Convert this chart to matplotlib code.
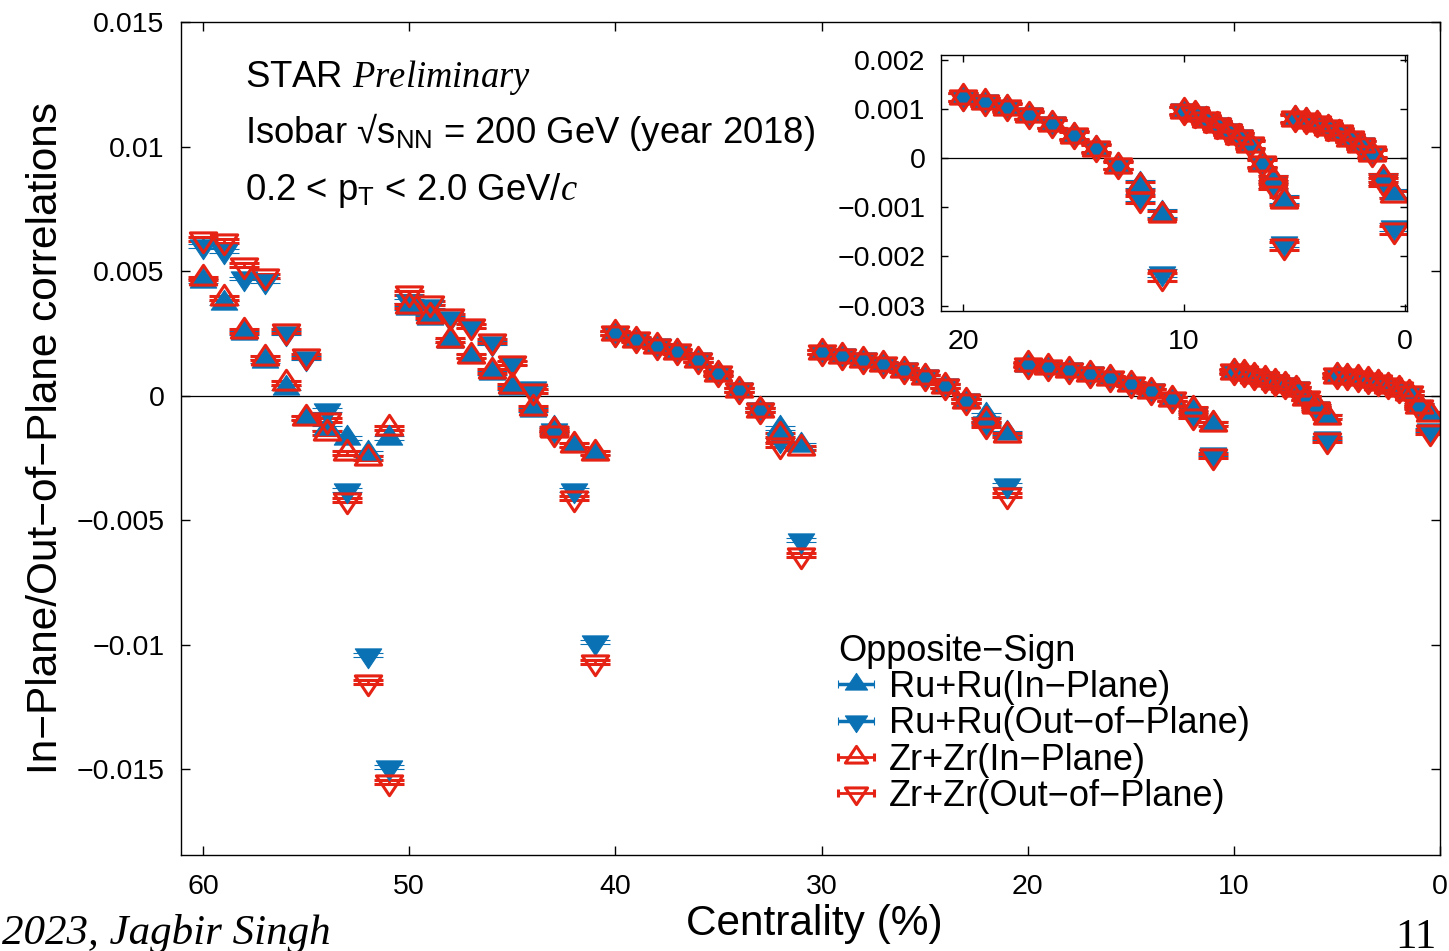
import numpy as np
import matplotlib
matplotlib.use('Agg')
import matplotlib.pyplot as plt
from matplotlib.path import Path
from matplotlib.ticker import FixedLocator, FuncFormatter

plt.rcParams['font.family'] = ['Liberation Sans', 'DejaVu Sans']
plt.rcParams['mathtext.fontset'] = 'custom'
plt.rcParams['mathtext.rm'] = 'Liberation Sans'
plt.rcParams['mathtext.it'] = 'Liberation Serif:italic'
plt.rcParams['mathtext.bf'] = 'Liberation Sans:bold'

BLUE = '#0a72b4'
RED = '#e52213'
YERR = 0.00008

# centrality bins (%), 7 groups of 10 points
cent = [60, 59, 58, 57, 56, 55, 54, 53, 52, 51,
        50, 49, 48, 47, 46, 45, 44, 43, 42, 41,
        40, 39, 38, 37, 36, 35, 34, 33, 32, 31,
        30, 29, 28, 27, 26, 25, 24, 23, 22, 21,
        20, 19, 18, 17, 16, 15, 14, 13, 12, 11,
        10, 9.5, 9, 8.5, 8, 7.5, 7, 6.5, 6, 5.5,
        5, 4.5, 4, 3.5, 3, 2.5, 2, 1.5, 1, 0.5]

ru_in = [0.0046, 0.0037, 0.0025, 0.0014, 0.0003, -0.0009, -0.0013, -0.0017, -0.0023, -0.0017,
         0.0035, 0.0031, 0.0022, 0.0016, 0.0009, 0.0003, -0.0006, -0.0013, -0.0020, -0.0023,
         0.00250, 0.00225, 0.00200, 0.00178, 0.00144, 0.00090, 0.00024, -0.00056, -0.0013, -0.0020,
         0.00174, 0.00160, 0.00144, 0.00127, 0.00104, 0.00077, 0.00040, -0.00020, -0.0008, -0.0015,
         0.00124, 0.00115, 0.00104, 0.00088, 0.00070, 0.00047, 0.00020, -0.00014, -0.00053, -0.00112,
         0.00097, 0.00090, 0.00079, 0.00068, 0.00056, 0.00044, 0.00028, -0.00010, -0.00042, -0.00083,
         0.00081, 0.00077, 0.00071, 0.00063, 0.00053, 0.00041, 0.00027, 0.00010, -0.00038, -0.00071]

ru_out = [0.0060, 0.0058, 0.0047, 0.0046, 0.0025, 0.0015, -0.0006, -0.0038, -0.0104, -0.0149,
          0.0038, 0.0036, 0.0031, 0.0028, 0.0021, 0.0013, 0.0003, -0.0014, -0.0038, -0.0099,
          0.00248, 0.00226, 0.00202, 0.00180, 0.00146, 0.00092, 0.00026, -0.00054, -0.0018, -0.0058,
          0.00173, 0.00161, 0.00145, 0.00128, 0.00105, 0.00078, 0.00041, -0.00019, -0.0011, -0.0036,
          0.00123, 0.00116, 0.00105, 0.00089, 0.00071, 0.00048, 0.00021, -0.00013, -0.00080, -0.00234,
          0.00098, 0.00091, 0.00080, 0.00069, 0.00057, 0.00045, 0.00029, -0.00009, -0.00052, -0.00172,
          0.00082, 0.00078, 0.00072, 0.00064, 0.00054, 0.00042, 0.00028, 0.00011, -0.00046, -0.00140]

zr_in = [0.0047, 0.0039, 0.0026, 0.0015, 0.0005, -0.0009, -0.0015, -0.0023, -0.0025, -0.0013,
         0.0036, 0.0032, 0.00225, 0.0016, 0.0010, 0.0004, -0.0005, -0.0014, -0.0020, -0.0023,
         0.00252, 0.00222, 0.00198, 0.00176, 0.00142, 0.00088, 0.00022, -0.00058, -0.0016, -0.0021,
         0.00176, 0.00158, 0.00142, 0.00125, 0.00102, 0.00075, 0.00038, -0.00022, -0.0010, -0.0016,
         0.00125, 0.00114, 0.00103, 0.00087, 0.00069, 0.00046, 0.00019, -0.00015, -0.00056, -0.00116,
         0.00096, 0.00089, 0.00078, 0.00067, 0.00055, 0.00043, 0.00027, -0.00011, -0.00044, -0.00087,
         0.00080, 0.00076, 0.00070, 0.00062, 0.00052, 0.00040, 0.00026, 0.00009, -0.00040, -0.00074]

zr_out = [0.0063, 0.0062, 0.00525, 0.0048, 0.0026, 0.0016, -0.0010, -0.0042, -0.0115, -0.0155,
          0.0041, 0.0037, 0.0032, 0.0028, 0.0022, 0.0013, 0.0002, -0.0015, -0.0041, -0.0107,
          0.00252, 0.00228, 0.00200, 0.00178, 0.00144, 0.00090, 0.00024, -0.00058, -0.0020, -0.0064,
          0.00175, 0.00159, 0.00143, 0.00126, 0.00103, 0.00076, 0.00039, -0.00021, -0.00118, -0.0040,
          0.00124, 0.00115, 0.00104, 0.00088, 0.00070, 0.00047, 0.00020, -0.00014, -0.00084, -0.00242,
          0.00097, 0.00090, 0.00079, 0.00068, 0.00056, 0.00044, 0.00028, -0.00010, -0.00055, -0.00178,
          0.00081, 0.00077, 0.00071, 0.00063, 0.00053, 0.00041, 0.00027, 0.00010, -0.00048, -0.00146]

labels = ['Ru+Ru(In\u2212Plane)', 'Ru+Ru(Out\u2212of\u2212Plane)',
          'Zr+Zr(In\u2212Plane)', 'Zr+Zr(Out\u2212of\u2212Plane)']

x_ticks = [60, 50, 40, 30, 20, 10, 0]
y_ticks = [-0.015, -0.01, -0.005, 0, 0.005, 0.01, 0.015]
inset_x_ticks = [20, 10, 0]
inset_y_ticks = [-0.003, -0.002, -0.001, 0, 0.001, 0.002]

# triangles centred on their centroid, like the gnuplot point types
TRI_UP = Path([(0, 1.0), (-1, -0.5), (1, -0.5), (0, 0)], closed=True)
TRI_DOWN = Path([(0, -1.0), (-1, 0.5), (1, 0.5), (0, 0)], closed=True)

styles = [
    dict(marker=TRI_UP, mfc=BLUE, mec=BLUE, mew=0.8, ecolor=BLUE, elinewidth=2.5, capthick=3.0),
    dict(marker=TRI_DOWN, mfc=BLUE, mec=BLUE, mew=0.8, ecolor=BLUE, elinewidth=2.5, capthick=3.0),
    dict(marker=TRI_UP, mfc='none', mec=RED, mew=2.2, ecolor=RED, elinewidth=2.0, capthick=2.2),
    dict(marker=TRI_DOWN, mfc='none', mec=RED, mew=2.2, ecolor=RED, elinewidth=2.0, capthick=2.2),
]
series = [ru_in, ru_out, zr_in, zr_out]


def fmt_tick(v, pos):
    return ('%g' % v).replace('-', '\u2212')


def draw_points(ax, x, ys):
    for y, st in zip(ys, styles):
        ax.errorbar(x, y, yerr=YERR, ls='none', ms=19, capsize=10.5, **st)
    ax.axhline(0, color='black', lw=0.9, zorder=0.5)


fig = plt.figure(figsize=(14.49, 9.51), dpi=100)
ax = fig.add_axes([181 / 1449, 96 / 951, 1259 / 1449, 833 / 951])

x = np.array(cent)
draw_points(ax, x, [np.array(s) for s in series])
ax.set_xlim(61.07, 0)
ax.set_ylim(-0.01845, 0.015)
ax.xaxis.set_major_locator(FixedLocator(x_ticks))
ax.yaxis.set_major_locator(FixedLocator(y_ticks))
ax.yaxis.set_major_formatter(FuncFormatter(fmt_tick))
ax.tick_params(direction='in', length=6.5, width=1, top=True, right=True,
               labelsize=20.5, pad=12)
ax.tick_params(axis='x', pad=14)
for sp in ax.spines.values():
    sp.set_linewidth(1.0)

ax.set_xlabel('Centrality (%)', fontsize=30.5)
ax.xaxis.set_label_coords(0.503, -0.0588)
ax.set_ylabel('In\u2212Plane/Out\u2212of\u2212Plane correlations', fontsize=30.5)
ax.yaxis.set_label_coords(-0.0913, 0.5)

ax.text(0.0508, 0.9220, r'STAR $\mathit{Preliminary}$', transform=ax.transAxes,
        fontsize=26.3, va='baseline')
ax.text(0.0508, 0.8547, 'Isobar \u221as$_\\mathrm{NN}$ = 200 GeV (year 2018)',
        transform=ax.transAxes, fontsize=26.3, va='baseline')
ax.text(0.0508, 0.7863, '0.2 < p$_\\mathrm{T}$ < 2.0 GeV/$c$', transform=ax.transAxes,
        fontsize=26.3, va='baseline')

# legend proxies: gnuplot style key sample (marker + horizontal bar with small caps)
handles = []
for st in styles:
    h = ax.errorbar([np.nan], [np.nan], xerr=[0.5], ls='none', ms=16, capsize=3,
                    **{k: v for k, v in st.items() if k != 'capthick'}, capthick=1.5)
    handles.append(h)
ax.legend(handles, labels, title='Opposite\u2212Sign', loc='upper left',
          bbox_to_anchor=(0.5218, 0.2656), frameon=False, fontsize=26, title_fontsize=26,
          handlelength=1.0, handletextpad=0.4, labelspacing=0.035, borderpad=0,
          borderaxespad=0, alignment='left', numpoints=1)

# inset: most central bins
axins = fig.add_axes([941 / 1449, 640 / 951, 466 / 1449, 256 / 951])
mask = x <= 20
draw_points(axins, x[mask], [np.array(s)[mask] for s in series])
axins.set_xlim(21.0, -0.08)
axins.set_ylim(-0.00311, 0.0021)
axins.xaxis.set_major_locator(FixedLocator(inset_x_ticks))
axins.yaxis.set_major_locator(FixedLocator(inset_y_ticks))
axins.yaxis.set_major_formatter(FuncFormatter(fmt_tick))
axins.tick_params(direction='in', length=5, width=1, top=True, right=True,
                  labelsize=20.5, pad=11)
axins.tick_params(axis='x', pad=13)
for sp in axins.spines.values():
    sp.set_linewidth(1.0)

fig.text(331 / 1449, 7 / 951, '2023, Jagbir Singh', family='Liberation Serif',
         style='italic', fontsize=31, ha='right', va='baseline')
fig.text(1395 / 1449, 3 / 951, '11', family='Liberation Serif', fontsize=31,
         ha='left', va='baseline')

fig.savefig('out.png', dpi=100)
